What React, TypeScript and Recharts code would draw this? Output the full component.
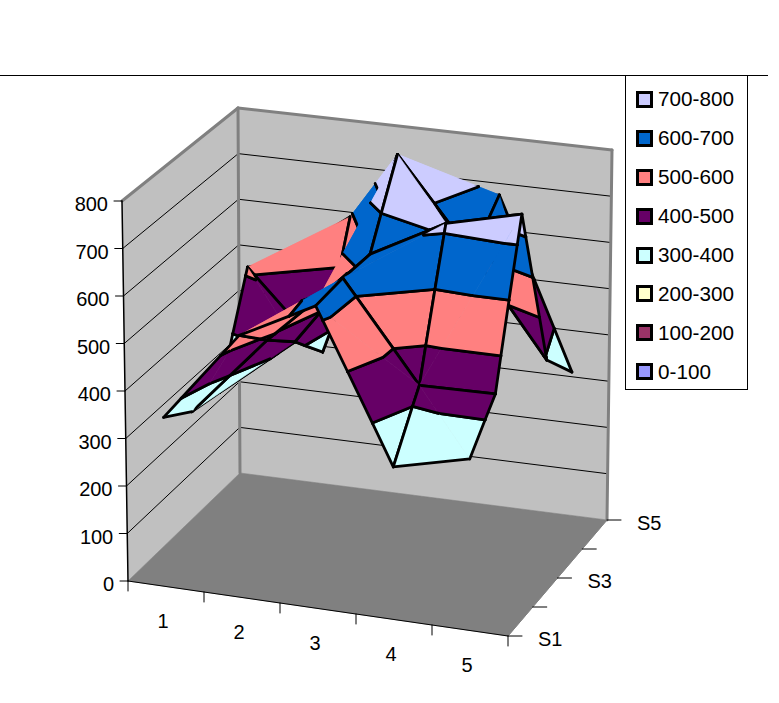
import React from "react";
import { ScatterChart, Scatter, XAxis, YAxis, Legend, ReferenceLine } from "recharts";

// surface values, one list per series, one value per category
const categories = ["1", "2", "3", "4", "5"];
const seriesNames = ["S1", "S2", "S3", "S4", "S5"];
const s1 = [355, 547, 628, 315, 352];
const s2 = [313, 485, 635, 430, 432];
const s3 = [300, 428, 634, 718, 756];
const s4 = [515, 351, 796, 600, 393];
const s5 = [470, 590, 640, 675, 310];
const rows = [s1, s2, s3, s4, s5];

const zTicks = [0, 100, 200, 300, 400, 500, 600, 700, 800];
const bandLabels = ["0-100", "100-200", "200-300", "300-400", "400-500", "500-600", "600-700", "700-800"];
const bandColors = ["#9999FF", "#993366", "#FFFFCC", "#CCFFFF", "#660066", "#FF8080", "#0066CC", "#CCCCFF"];

const WIDTH = 779;
const HEIGHT = 703;
const FONT = "'Liberation Sans', Arial, sans-serif";

type P3 = { x: number; y: number; z: number };
type Piece = { pts: { px: number; py: number }[]; fill: string; edges: boolean[]; stroke: string; width: number };

// box corners in the picture: [x][y][z]
const corners = {
  f0l: [128, 581], f0r: [508, 636], b0l: [240, 473], b0r: [607, 520],
  f1l: [122, 201], f1r: [508, 245], b1l: [238, 108], b1r: [612, 150],
};

function project(x: number, y: number, z: number) {
  const t = z / 800;
  const mix = (i: number) => {
    const low =
      (1 - y) * ((1 - x) * corners.f0l[i] + x * corners.f0r[i]) + y * ((1 - x) * corners.b0l[i] + x * corners.b0r[i]);
    const high =
      (1 - y) * ((1 - x) * corners.f1l[i] + x * corners.f1r[i]) + y * ((1 - x) * corners.b1l[i] + x * corners.b1r[i]);
    return (1 - t) * low + t * high;
  };
  return { px: mix(0), py: mix(1) };
}

function clipAbove(poly: P3[], level: number, keepAbove: boolean) {
  const out: P3[] = [];
  const inside = (p: P3) => (keepAbove ? p.z >= level : p.z <= level);
  poly.forEach((p, i) => {
    const q = poly[(i + 1) % poly.length];
    if (inside(p)) out.push(p);
    if (inside(p) !== inside(q)) {
      const t = (level - p.z) / (q.z - p.z);
      out.push({ x: p.x + (q.x - p.x) * t, y: p.y + (q.y - p.y) * t, z: level });
    }
  });
  return out;
}

function trianglePieces(tri: P3[]) {
  const pieces: Piece[] = [];
  bandColors.forEach((fill, b) => {
    const lo = b * 100;
    const hi = lo + 100;
    const poly = clipAbove(clipAbove(tri, lo, true), hi, false);
    if (poly.length < 3) return;
    const edges = poly.map((p, i) => {
      const q = poly[(i + 1) % poly.length];
      if (p.z === q.z && p.z % 100 === 0) return true;
      return p.x === q.x || p.y === q.y;
    });
    pieces.push({ pts: poly.map((p) => project(p.x, p.y, p.z)), fill, edges, stroke: "#000", width: 2.8 });
  });
  return pieces;
}

function surfacePieces() {
  const out: Piece[] = [];
  const gx = (i: number) => (i + 0.5) / categories.length;
  const gy = (j: number) => j / (seriesNames.length - 1);
  for (let j = seriesNames.length - 2; j >= 0; j--) {
    for (let i = 0; i < categories.length - 1; i++) {
      const a = { x: gx(i), y: gy(j), z: rows[j][i] };
      const b = { x: gx(i + 1), y: gy(j), z: rows[j][i + 1] };
      const c = { x: gx(i + 1), y: gy(j + 1), z: rows[j + 1][i + 1] };
      const d = { x: gx(i), y: gy(j + 1), z: rows[j + 1][i] };
      // split each cell along its higher diagonal, S2/cat 1 goes the other way in the picture
      let useAC = a.z + c.z >= b.z + d.z;
      if (j === 1 && i === 0) useAC = true;
      let tris;
      if (useAC) tris = [[a, c, d], [a, b, c]];
      else tris = [[d, b, c], [a, b, d]];
      tris.forEach((t) => out.push(...trianglePieces(t)));
    }
  }
  return out;
}

function plain(points: number[][], fill: string, stroke = "none", width = 0): Piece {
  return {
    pts: points.map((p) => project(p[0], p[1], p[2])),
    fill,
    edges: points.map(() => stroke !== "none"),
    stroke,
    width,
  };
}

function wallPieces() {
  const out: Piece[] = [
    plain([[0, 0, 0], [0, 1, 0], [0, 1, 800], [0, 0, 800]], "#C0C0C0"),
    plain([[0, 1, 0], [1, 1, 0], [1, 1, 800], [0, 1, 800]], "#C0C0C0"),
    plain([[0, 0, 0], [1, 0, 0], [1, 1, 0], [0, 1, 0]], "#808080"),
  ];
  zTicks.slice(1, -1).forEach((z) => {
    out.push(plain([[0, 0, z], [0, 1, z]], "none", "#000", 1));
    out.push(plain([[0, 1, z], [1, 1, z]], "none", "#000", 1));
  });
  out.push(plain([[0, 0, 800], [0, 1, 800]], "none", "#808080", 3));
  out.push(plain([[0, 1, 800], [1, 1, 800]], "none", "#808080", 3));
  out.push(plain([[1, 1, 800], [1, 1, 0]], "none", "#808080", 3));
  out.push(plain([[0, 1, 0], [0, 1, 800]], "none", "#808080", 3));
  // axes
  out.push(plain([[0, 0, 0], [0, 0, 800]], "none", "#000", 1.5));
  out.push(plain([[0, 0, 0], [1, 0, 0]], "none", "#000", 1));
  out.push(plain([[1, 0, 0], [1, 1, 0]], "none", "#808080", 1));
  return out;
}

function tickPieces() {
  const out: Piece[] = [];
  const seg = (a: number[], dx: number, dy: number) => {
    const p = project(a[0], a[1], a[2]);
    out.push({ pts: [p, { px: p.px + dx, py: p.py + dy }], fill: "none", edges: [true, true], stroke: "#000", width: 1 });
  };
  zTicks.forEach((z) => seg([0, 0, z], -8, 0));
  [0, 1, 2, 3, 4, 5].forEach((i) => seg([i / 5, 0, 0], 0, 10));
  [0, 1, 2, 3, 4].forEach((j) => seg([1, j / 4, 0], 14, 0));
  return out;
}

function labelPoints() {
  const out: { px: number; py: number; text: string; anchor: string }[] = [];
  zTicks.forEach((z) => {
    const p = project(0, 0, z);
    out.push({ px: p.px - 14, py: p.py + 3, text: String(z), anchor: "end" });
  });
  categories.forEach((c, i) => {
    const p = project((i + 0.5) / 5, 0, 0);
    out.push({ px: p.px - 3, py: p.py + 34, text: c, anchor: "middle" });
  });
  seriesNames.forEach((s, j) => {
    if (j % 2 === 1) return;
    const p = project(1, j / 4, 0);
    out.push({ px: p.px + 30, py: p.py + 3, text: s, anchor: "start" });
  });
  return out;
}

const noDot = () => <g />;

function drawPiece(piece: Piece) {
  return (lineProps: any) => {
    const points = lineProps.points as { x: number; y: number }[];
    const d = points.map((p, i) => `${i ? "L" : "M"}${p.x},${p.y}`).join("") + "Z";
    return (
      <g>
        {piece.fill !== "none" && <path d={d} fill={piece.fill} stroke={piece.fill} strokeWidth={0.6} />}
        {points.map((p, i) => {
          const q = points[(i + 1) % points.length];
          if (!piece.edges[i] || (points.length === 2 && i === 1)) return null;
          return (
            <line key={i} x1={p.x} y1={p.y} x2={q.x} y2={q.y} stroke={piece.stroke} strokeWidth={piece.width} strokeLinecap="round" />
          );
        })}
      </g>
    );
  };
}

function LegendBox() {
  const items = bandLabels.map((label, i) => ({ label, color: bandColors[i] })).reverse();
  return (
    <div style={{ boxSizing: "border-box", width: 123, height: 315, border: "1.5px solid #000", background: "#fff", paddingTop: 4, fontFamily: FONT, fontSize: 20.7 }}>
      {items.map((it) => (
        <div key={it.label} style={{ display: "flex", alignItems: "center", height: 38.9, paddingLeft: 10 }}>
          <span style={{ display: "inline-block", boxSizing: "border-box", width: 17, height: 17, border: "3px solid #000", background: it.color, marginRight: 5 }} />
          <span style={{ color: "#000" }}>{it.label}</span>
        </div>
      ))}
    </div>
  );
}

export default function App() {
  const pieces = [...wallPieces(), ...tickPieces(), ...surfacePieces()];
  const labels = labelPoints();
  return (
    <div style={{ position: "absolute", left: 0, top: 0, width: WIDTH, height: HEIGHT, background: "#fff" }}>
      <ScatterChart width={WIDTH} height={HEIGHT} margin={{ top: 0, right: 0, bottom: 0, left: 0 }}>
        <XAxis type="number" dataKey="px" domain={[0, WIDTH]} hide />
        <YAxis type="number" dataKey="py" domain={[0, HEIGHT]} reversed hide />
        {pieces.map((piece, i) => (
          <Scatter key={i} data={piece.pts} line={drawPiece(piece)} shape={noDot} isAnimationActive={false} />
        ))}
        <Scatter
          data={labels}
          isAnimationActive={false}
          shape={(p: any) => (
            <text x={p.cx} y={p.cy} dy={7} textAnchor={p.payload.anchor} fontFamily={FONT} fontSize={20} fill="#000">
              {p.payload.text}
            </text>
          )}
        />
        <ReferenceLine segment={[{ x: 0, y: 75.5 }, { x: 768, y: 75.5 }]} stroke="#000" strokeWidth={1} />
        <Legend layout="vertical" align="center" verticalAlign="middle" content={LegendBox} wrapperStyle={{ left: 625, top: 75, width: 123, height: 315 }} />
      </ScatterChart>
    </div>
  );
}
